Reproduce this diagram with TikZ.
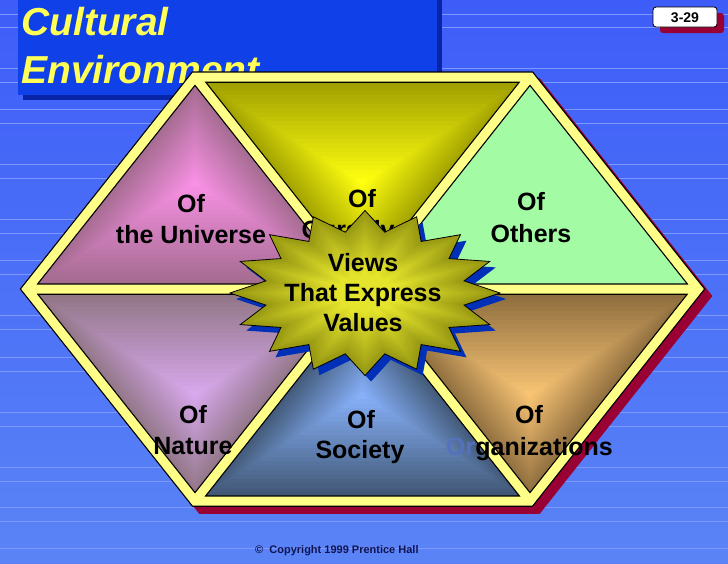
\documentclass[tikz,border=0pt]{standalone}
\usepackage{fontspec}
\setmainfont{Liberation Sans}
\usetikzlibrary{calc}
\definecolor{bgtop}{HTML}{3E5DF8}
\definecolor{bgbot}{HTML}{5A84F6}
\definecolor{stripec}{HTML}{7D98FF}
\definecolor{titlebg}{HTML}{1040E8}
\definecolor{titlesh}{HTML}{0825A8}
\definecolor{titlefg}{HTML}{FFFF55}
\definecolor{redsh}{HTML}{990033}
\definecolor{bandyel}{HTML}{FFFF88}
\definecolor{starsh}{HTML}{0030B8}
\definecolor{copyc}{HTML}{101450}
\definecolor{orblue}{HTML}{5472BC}
\definecolor{univin}{HTML}{F890E4}
\definecolor{univout}{HTML}{A06A8C}
\definecolor{oursin}{HTML}{FFFF10}
\definecolor{oursout}{HTML}{9C9C00}
\definecolor{othc}{HTML}{A3FBA3}
\definecolor{natin}{HTML}{D8A8EC}
\definecolor{natout}{HTML}{8E7482}
\definecolor{socin}{HTML}{86B0F8}
\definecolor{socout}{HTML}{3E5470}
\definecolor{orgin}{HTML}{F8C474}
\definecolor{orgout}{HTML}{8A6A3C}
\definecolor{starin}{HTML}{E4E42C}
\definecolor{starout}{HTML}{9A9A14}
\newcommand\nesttri[6]{%
  \foreach \k in {0,...,23}{%
    \pgfmathsetmacro\nsc{1-\k/24}%
    \pgfmathtruncatemacro\npc{100*\k/23}%
    \fill[color={#5!\npc!#6}] ($(#4)!\nsc!(#1)$) -- ($(#4)!\nsc!(#2)$) -- ($(#4)!\nsc!(#3)$) -- cycle;
  }}
\begin{document}
\begin{tikzpicture}[x=1pt,y=-1pt,
  stripe/.style={draw=stripec,line width=0.8},
  titletext/.style={font=\fontsize{39}{44}\selectfont\bfseries\itshape,text=titlefg,inner sep=0,anchor=base west},
  lbl/.style={font=\fontsize{25}{30}\selectfont\bfseries,text=black,inner sep=0,anchor=base},
  edgeblack/.style={draw=black,line width=11.5,line join=miter},
  edgeyel/.style={draw=bandyel,line width=9,line join=miter},
  starpath/.style={insert path={plot[samples=33,domain=0:32] ({(118+17*cos(180*\x))*sin(11.25*\x)},{-(72.25+10.25*cos(180*\x))*cos(11.25*\x)}) -- cycle}}]
\useasboundingbox (0,0) rectangle (728,563);
% background
\shade[top color=bgtop,bottom color=bgbot] (0,0) rectangle (728,563);
\foreach \yy in {14,27,68,82,109,123,164,178,219,233,260,274,315,329,357,371,412,426,467,481,507,521,548}
  \draw[stripe] (0,\yy) -- (728,\yy);
% title
\fill[titlesh] (23,-2) rectangle (442,100);
\fill[titlebg] (18,-2) rectangle (437,95);
\node[titletext] (t1) at (21,35) {Cultural};
\node[titletext] (t2) at (21,83) {Environment};
% page number
\fill[redsh,rounded corners=3] (660,13) rectangle (724,33);
\draw[fill=white,draw=black,line width=0.8,rounded corners=3] (653,7) rectangle (717,27);
\node[font=\fontsize{14}{16}\selectfont\bfseries,inner sep=0,anchor=base] (pn) at (685,22) {3-29};
% hexagon geometry
\coordinate (L) at (27,289);
\coordinate (TL) at (195,77);
\coordinate (TR) at (530,77);
\coordinate (R) at (698,289);
\coordinate (BR) at (530,501);
\coordinate (BL) at (195,501);
\coordinate (C) at (362.5,289);
% hexagon shadow
\filldraw[fill=redsh,draw=redsh,line width=11.5,line join=miter]
  ([shift={(7,7)}]L) -- ([shift={(7,7)}]TL) -- ([shift={(7,7)}]TR) -- ([shift={(7,7)}]R)
  -- ([shift={(7,7)}]BR) -- ([shift={(7,7)}]BL) -- cycle;
% triangles
\coordinate (cu) at (195,183);
\coordinate (co) at (362.5,183);
\coordinate (ct) at (530,183);
\coordinate (cn) at (195,395);
\coordinate (cs) at (362.5,395);
\coordinate (cg) at (530,395);
\nesttri{TL}{L}{C}{cu}{univin}{univout}
\nesttri{TL}{TR}{C}{co}{oursin}{oursout}
\fill[othc] (TR) -- (C) -- (R) -- cycle;
\nesttri{L}{C}{BL}{cn}{natin}{natout}
\nesttri{C}{BL}{BR}{cs}{socin}{socout}
\nesttri{C}{R}{BR}{cg}{orgin}{orgout}
% yellow bands with black edges
\draw[edgeblack] (L) -- (TL) -- (TR) -- (R) -- (BR) -- (BL) -- cycle (L) -- (R) (TL) -- (BR) (TR) -- (BL);
\draw[edgeyel] (L) -- (TL) -- (TR) -- (R) -- (BR) -- (BL) -- cycle (L) -- (R) (TL) -- (BR) (TR) -- (BL);
% labels
\node[lbl] (u1) at (191,212) {Of};
\node[lbl] (u2) at (191,243) {the Universe};
\node[lbl] (o1) at (362,207) {Of};
\node[lbl] (o2) at (362,238) {Ourselves};
\node[lbl] (h1) at (531,210) {Of};
\node[lbl] (h2) at (531,242) {Others};
\node[lbl] (n1) at (193,423) {Of};
\node[lbl] (n2) at (193,454) {Nature};
\node[lbl] (s1) at (361,428) {Of};
\node[lbl] (s2) at (360,458) {Society};
\node[lbl] (g1) at (529,423) {Of};
\node[lbl] (g2) at (529.5,455) {{\color{orblue}Or}ganizations};
% star
\fill[starsh,shift={(371,299)},starpath];
\foreach \k in {0,...,15}{%
  \pgfmathsetmacro\nsc{1-0.72*\k/15}%
  \pgfmathtruncatemacro\npc{100*\k/15}%
  \fill[color={starin!\npc!starout},shift={(365,293)},scale=\nsc,starpath];
}
\draw[black,line width=0.8,line join=miter,shift={(365,293)},starpath];
\node[lbl] (v1) at (363,271) {Views};
\node[lbl] (v2) at (363,301) {That Express};
\node[lbl] (v3) at (363,331) {Values};
% copyright
\node[font=\fontsize{11}{13}\selectfont\bfseries,text=copyc,inner sep=0,anchor=base west] (cp) at (255,553) {©\ \ Copyright 1999 Prentice Hall};
\end{tikzpicture}
\end{document}
